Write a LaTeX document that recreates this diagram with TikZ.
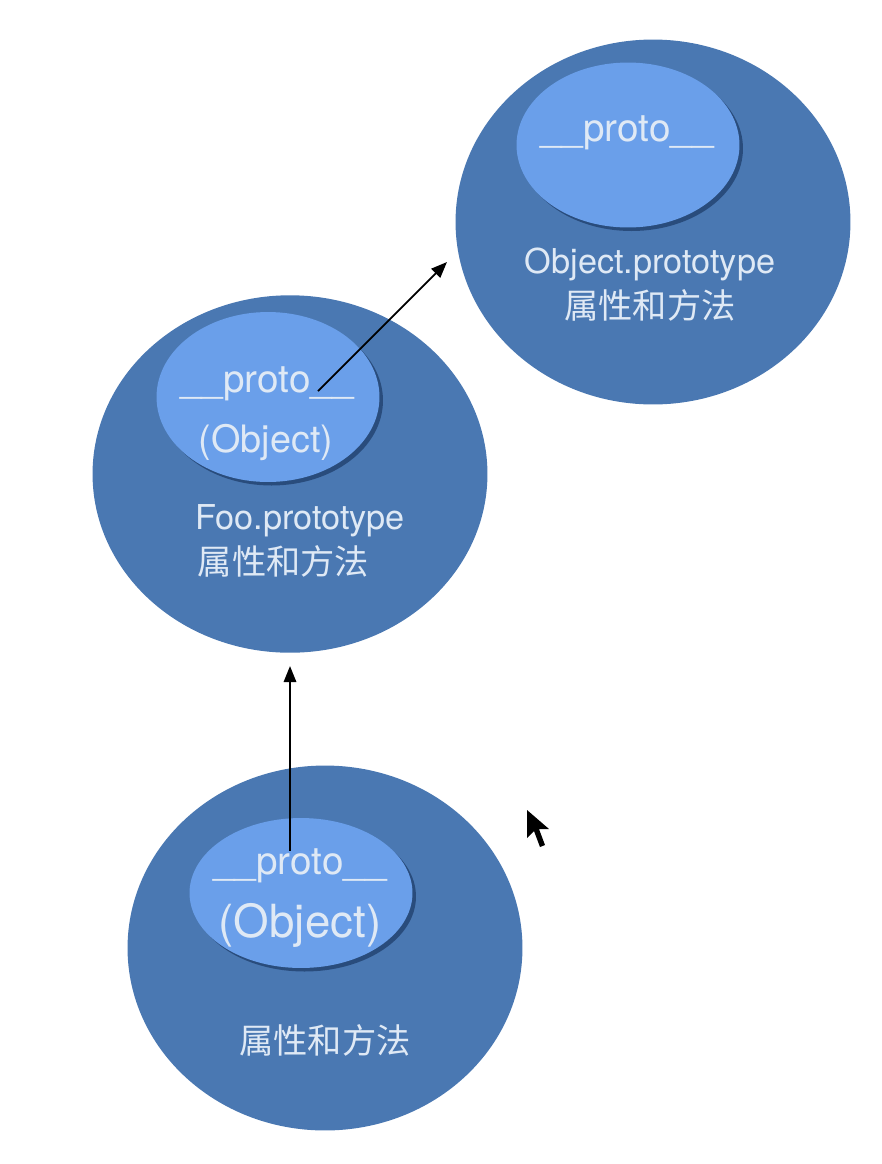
\documentclass[tikz,border=0pt]{standalone}
\usepackage{fontspec}
\setmainfont{TeX Gyre Heros}
\newfontfamily\cjk{Noto Sans CJK SC}
\usepackage{xcolor}
\usetikzlibrary{arrows.meta,shapes.geometric,shadows}
\definecolor{outerblue}{HTML}{4A78B2}
\definecolor{innerblue}{HTML}{6A9FEA}
\definecolor{rimblue}{HTML}{284A7A}
\definecolor{labelwhite}{HTML}{DFE9F5}

\begin{document}
\begin{tikzpicture}[
x=0.02cm,
y=-0.02cm,
every node/.style={text=labelwhite,inner sep=0pt},
outer/.style={ellipse,fill=outerblue,minimum width=7.9cm,minimum height=7.3cm},
inner/.style={ellipse,fill=innerblue,minimum width=4.46cm,minimum height=3.3cm,drop shadow={shadow xshift=2pt,shadow yshift=-2pt,fill=rimblue,opacity=0.95}},
ptr/.style={font=\fontsize{22}{26}\selectfont},
kind/.style={font=\fontsize{21.5}{26}\selectfont},
body/.style={align=center,font=\fontsize{19.5}{25.6}\selectfont},
arr/.style={-{Triangle[length=3.2mm,width=2.5mm]},line width=1pt,draw=black}
]
\useasboundingbox (0,0) rectangle (882,1164);
% outer circles
\node[outer] (objproto) at (653,222) {};
\node[outer,minimum height=7.15cm] (fooproto) at (290,474) {};
\node[outer] (instance) at (325,948) {};
% inner __proto__ ellipses
\node[inner] (objin) at (628,145) {};
\node[inner,minimum height=3.4cm] (fooin) at (268,397) {};
\node[inner,minimum height=3.0cm] (instin) at (301,893) {};
% labels
\node[ptr] (objptr) at (627,133) {\_\_proto\_\_};
\node[body] (objtext) at (650,285) {Object.prototype\\{\cjk 属性和方法}};
\node[ptr] (fooptr) at (267,384) {\_\_proto\_\_};
\node[kind] (fookind) at (266,443) {(Object)};
\node[body,align=left] (footext) at (300,541) {Foo.prototype\\\hspace{1.5pt}{\cjk 属性和方法}};
\node[ptr] (instptr) at (300,866) {\_\_proto\_\_};
\node[kind,font=\fontsize{26}{30}\selectfont] (instkind) at (300,925) {(Object)};
\node[body] (insttext) at (325,1040) {{\cjk 属性和方法}};
% pointers
\coordinate (foolink) at (318,391);
\coordinate (objtip) at (447,262);
\coordinate (instlink) at (290,851);
\draw[arr] (foolink) -- (objtip);
\draw[arr,shorten >=2.6mm] (instlink) -- (fooproto.south);
% mouse pointer
\fill[black] (527,810) -- (527,838) -- (534,831) -- (540,847) -- (545,845) -- (539,829) -- (549,829) -- cycle;
\end{tikzpicture}
\end{document}
